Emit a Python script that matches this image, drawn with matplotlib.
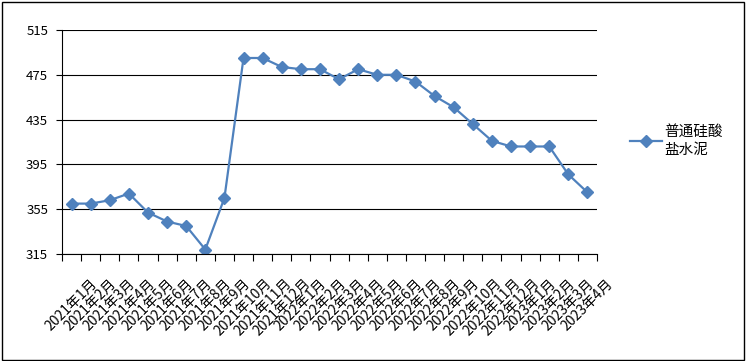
import numpy as np
import matplotlib.pyplot as plt
from matplotlib.patches import Rectangle
from matplotlib.ticker import FixedLocator

plt.rcParams['font.family'] = ['Noto Sans CJK SC', 'DejaVu Sans']

# monthly price data
months = ['2021年1月', '2021年2月', '2021年3月', '2021年4月', '2021年5月', '2021年6月',
          '2021年7月', '2021年8月', '2021年9月', '2021年10月', '2021年11月', '2021年12月',
          '2022年1月', '2022年2月', '2022年3月', '2022年4月', '2022年5月', '2022年6月',
          '2022年7月', '2022年8月', '2022年9月', '2022年10月', '2022年11月', '2022年12月',
          '2023年1月', '2023年2月', '2023年3月', '2023年4月']
cement = [360, 360, 363, 369, 352, 344, 340, 319, 365, 490, 490, 482,
          480, 480, 471, 480, 475, 475, 469, 456, 446, 431, 416, 411,
          411, 411, 386, 370]
series_name = '普通硅酸\n盐水泥'
y_ticks = [315, 355, 395, 435, 475, 515]

fig = plt.figure(figsize=(7.46, 3.61), dpi=100)
ax = fig.add_axes([0.0831, 0.2964, 0.7172, 0.6205])

x = np.arange(len(months))
ax.plot(x, cement, color='#4F81BD', lw=1.6, marker='D', markersize=5.8,
        label=series_name)

ax.set_xlim(-0.5, len(months) - 0.5)
ax.set_ylim(315, 515)
ax.set_yticks(y_ticks)
ax.yaxis.grid(True, color='black', lw=0.8)
ax.set_axisbelow(True)

ax.set_xticks(x)
ax.set_xticklabels(months, rotation=45, ha='center', va='top', fontsize=10)
ax.xaxis.set_minor_locator(FixedLocator(np.arange(-0.5, len(months), 1)))
ax.tick_params(axis='x', which='major', length=0, pad=16)
ax.tick_params(axis='x', which='minor', length=5, width=0.8, direction='out')
ax.tick_params(axis='y', length=4, width=0.8, direction='out', labelsize=9.5, pad=6)

for s in ['top', 'right']:
    ax.spines[s].set_visible(False)
for s in ['left', 'bottom']:
    ax.spines[s].set_color('black')
    ax.spines[s].set_linewidth(0.8)

leg = fig.legend(loc='center left', bbox_to_anchor=(0.827, 0.61), frameon=False,
                 fontsize=10.5, handlelength=2.2, handletextpad=0.15)
for t in leg.get_texts():
    t.set_linespacing(1.45)

fig.patches.append(Rectangle((0.003, 0.004), 0.994, 0.99, transform=fig.transFigure,
                             fill=False, edgecolor='black', lw=1.0))

fig.savefig('out.png', dpi=100)
